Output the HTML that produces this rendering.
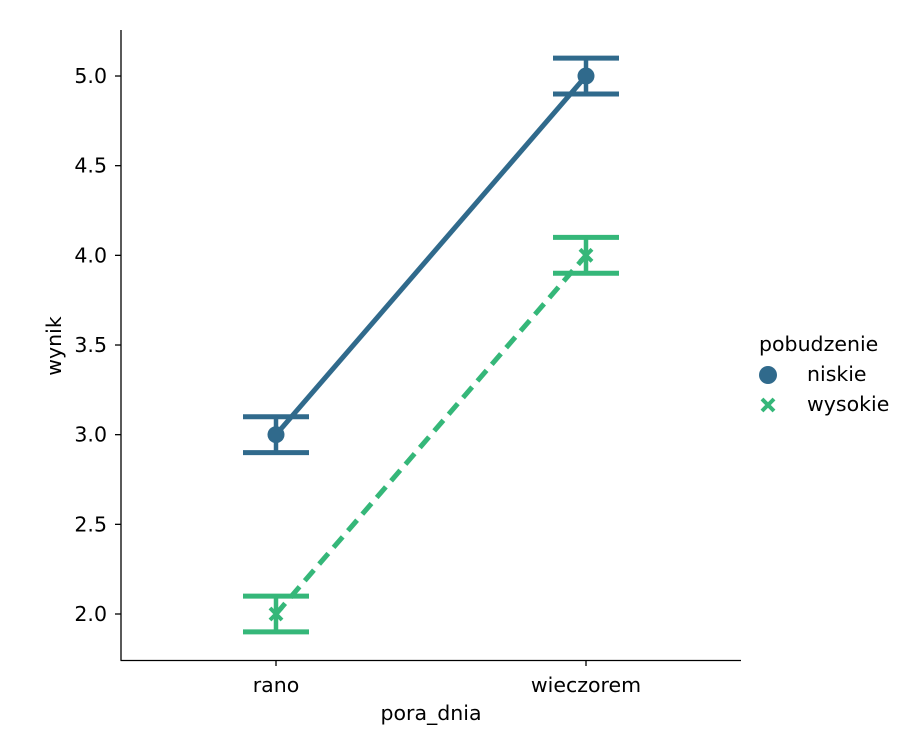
<!DOCTYPE html>
<html><head><meta charset="utf-8"><style>
body{margin:0;background:#fff}
svg text{font-family:"DejaVu Sans","Liberation Sans",sans-serif;font-size:20.5px;fill:#000}
</style></head><body>
<svg id="chart" width="908" height="750" viewBox="0 0 908 750" xmlns="http://www.w3.org/2000/svg">
<g id="axes"></g>
<g id="marks"></g>
<g id="legend">
<text x="759" y="351">pobudzenie</text>
<circle cx="768" cy="375" r="9" fill="#306a8c"/>
<text x="807" y="381">niskie</text>
<path d="M762 399 L774 411 M774 399 L762 411" stroke="#35b779" stroke-width="4"/>
<text x="807" y="411">wysokie</text>
</g>
</svg>
<script>
const categories=["rano","wieczorem"];
const seriesNames=["niskie","wysokie"];
const niskieValues=[3.0,5.0];
const niskieLow=[2.9,4.9];
const niskieHigh=[3.1,5.1];
const wysokieValues=[2.0,4.0];
const wysokieLow=[1.9,3.9];
const wysokieHigh=[2.1,4.1];
const yTicks=[2.0,2.5,3.0,3.5,4.0,4.5,5.0];
const NS="http://www.w3.org/2000/svg";
const x=i=>276+i*310;
const y=v=>614-(v-2)*179.33;
function mk(tag,attrs,parent,txt){const e=document.createElementNS(NS,tag);for(const k in attrs)e.setAttribute(k,attrs[k]);if(txt!==undefined)e.textContent=txt;parent.appendChild(e);return e;}
const ax=document.getElementById('axes'),mg=document.getElementById('marks');
let e=mk('line',{x1:121,y1:30,x2:121,y2:660.5,stroke:'#000','stroke-width':1.3},ax);


e=mk('line',{x1:120.5,y1:660.5,x2:741,y2:660.5,stroke:'#000','stroke-width':1.3},ax);


yTicks.forEach(t=>{
 mk('line',{x1:115,x2:121,y1:y(t),y2:y(t),stroke:'#000','stroke-width':1.3},ax);
 e=mk('text',{x:107,y:y(t)+7,'text-anchor':'end'},ax,t.toFixed(1));
 
 
});
categories.forEach((c,i)=>{
 mk('line',{x1:x(i),x2:x(i),y1:660,y2:666,stroke:'#000','stroke-width':1.3},ax);
 e=mk('text',{x:x(i),y:692,'text-anchor':'middle'},ax,c);
 
 
});
e=mk('text',{x:431,y:720,'text-anchor':'middle'},ax,'pora_dnia');


e=mk('text',{x:0,y:0,'text-anchor':'middle',transform:'translate(61,346) rotate(-90)'},ax,'wynik');


const series=[
 {name:'niskie',v:niskieValues,lo:niskieLow,hi:niskieHigh,c:'#306a8c',dash:null,m:'o'},
 {name:'wysokie',v:wysokieValues,lo:wysokieLow,hi:wysokieHigh,c:'#35b779',dash:'14,8',m:'x'}];
series.forEach(s=>{
 const pts=s.v.map((v,i)=>x(i)+','+y(v)).join(' ');
 const a={points:pts,fill:'none',stroke:s.c,'stroke-width':5};
 if(s.dash)a['stroke-dasharray']=s.dash;
 e=mk('polyline',a,mg);
 
 
 s.v.forEach((v,i)=>{
  const g=mk('g',{},mg);
  
  
  mk('line',{x1:x(i),x2:x(i),y1:y(s.lo[i]),y2:y(s.hi[i]),stroke:s.c,'stroke-width':4.5},g);
  mk('line',{x1:x(i)-33,x2:x(i)+33,y1:y(s.lo[i]),y2:y(s.lo[i]),stroke:s.c,'stroke-width':5},g);
  mk('line',{x1:x(i)-33,x2:x(i)+33,y1:y(s.hi[i]),y2:y(s.hi[i]),stroke:s.c,'stroke-width':5},g);
  let p;
  if(s.m==='o')p=mk('circle',{cx:x(i),cy:y(v),r:8.5,fill:s.c},mg);
  else{const X=x(i),Y=y(v);p=mk('path',{d:`M${X-6} ${Y-6} L${X+6} ${Y+6} M${X+6} ${Y-6} L${X-6} ${Y+6}`,stroke:s.c,'stroke-width':4},mg);}
  
  
 });
});
</script>
</body></html>
